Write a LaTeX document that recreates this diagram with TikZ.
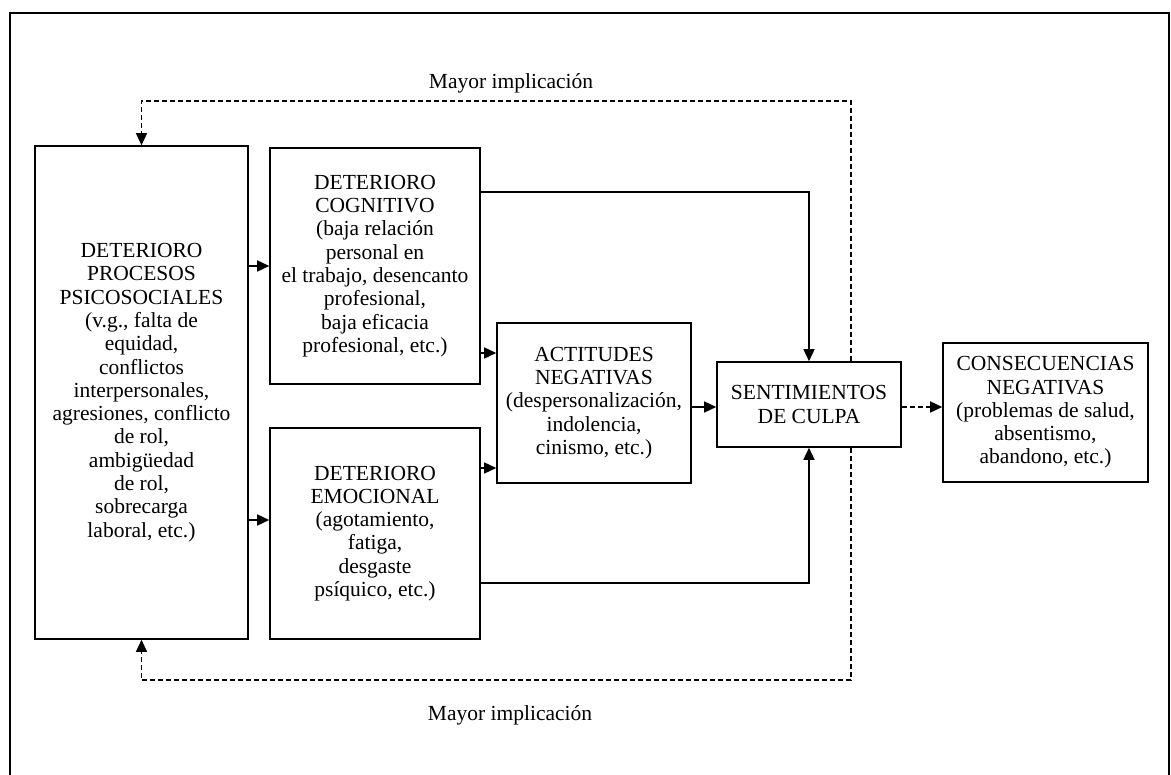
\documentclass[tikz,border=0pt]{standalone}
\usepackage{fontspec}
\setmainfont{Liberation Serif}
\usetikzlibrary{arrows.meta}
\begin{document}
\begin{tikzpicture}[x=1pt,y=-1pt,
  box/.style={draw,line width=1.6pt,inner sep=0pt,align=center,
    font=\fontsize{21.5pt}{23.3pt}\selectfont},
  lbl/.style={font=\fontsize{21.5pt}{23.3pt}\selectfont,inner sep=0pt},
  arr/.style={line width=1.5pt,-{Triangle[length=12pt,width=11pt]}},
  darr/.style={line width=1.5pt,dash pattern=on 5pt off 3pt,-{Triangle[length=12pt,width=11pt]}}]
\useasboundingbox (0,0) rectangle (1171,775);
% frame
\draw[line width=1.5pt] (10,775) -- (10,13) -- (1169,13) -- (1169,775);
% boxes
\node[box,minimum width=213pt,minimum height=493pt] (A) at (141.5,392.5)
  {DETERIORO\\PROCESOS\\PSICOSOCIALES\\(v.g., falta de\\equidad,\\conflictos\\interpersonales,\\agresiones, conflicto\\de rol,\\ambigüedad\\de rol,\\sobrecarga\\laboral, etc.)};
\node[box,minimum width=210pt,minimum height=236pt] (B) at (375,266)
  {DETERIORO\\COGNITIVO\\(baja relación\\personal en\\el trabajo, desencanto\\profesional,\\baja eficacia\\profesional, etc.)};
\node[box,minimum width=210pt,minimum height=211pt] (C) at (375,533.5)
  {DETERIORO\\EMOCIONAL\\(agotamiento,\\fatiga,\\desgaste\\psíquico, etc.)};
\node[box,minimum width=194pt,minimum height=160pt] (D) at (594,403)
  {ACTITUDES\\NEGATIVAS\\(despersonalización,\\indolencia,\\cinismo, etc.)};
\node[box,minimum width=184pt,minimum height=85pt] (E) at (809,404.5)
  {SENTIMIENTOS\\DE CULPA};
\node[box,minimum width=205pt,minimum height=139pt] (F) at (1045.5,412.5)
  {CONSECUENCIAS\\NEGATIVAS\\(problemas de salud,\\absentismo,\\abandono, etc.)};
% labels
\node[lbl,anchor=base] (Ltop) at (511,89) {Mayor implicación};
\node[lbl,anchor=base] (Lbot) at (510,720) {Mayor implicación};
% helper coordinates
\coordinate (lAC) at (0,520);
\coordinate (lBD) at (0,353);
\coordinate (lCD) at (0,468);
\coordinate (lDE) at (0,407);
\coordinate (lBE) at (0,192);
\coordinate (lCE) at (0,583);
\coordinate (fbT) at (851,101);
\coordinate (fbB) at (851,680);
% connectors
\draw[arr] (A.east |- B.west) -- (B.west);
\draw[arr] (A.east |- lAC) -- (C.west |- lAC);
\draw[arr] (B.east |- lBD) -- (D.west |- lBD);
\draw[arr] (C.east |- lCD) -- (D.west |- lCD);
\draw[arr] (D.east |- lDE) -- (E.west |- lDE);
\draw[darr] (E.east |- lDE) -- (F.west |- lDE);
\draw[arr] (B.east |- lBE) -| (E.north);
\draw[arr] (C.east |- lCE) -| (E.south);
\draw[darr] (E.north -| fbT) -- (fbT) -| (A.north);
\draw[darr] (E.south -| fbB) -- (fbB) -| (A.south);
\end{tikzpicture}
\end{document}
